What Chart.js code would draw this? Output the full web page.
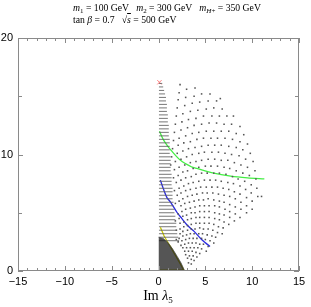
<!DOCTYPE html>
<html>
<head>
<meta charset="utf-8">
<script src="https://cdn.jsdelivr.net/npm/chart.js@4.4.0/dist/chart.umd.min.js"></script>
<style>
  html, body { margin: 0; padding: 0; background: #fff; }
  #wrap { position: relative; width: 311px; height: 307px; overflow: hidden; }
  #plot { position: absolute; left: 0; top: 0; }
  .cap { position: absolute; font-family: "Liberation Serif", "DejaVu Serif", serif; font-size: 9.7px; color: #000; white-space: pre; line-height: 10px; }
  .cap sub { font-size: 7px; vertical-align: -2px; line-height: 0; }
  .xlab { position: absolute; left: 0; width: 316px; top: 288px; text-align: center; font-family: "Liberation Serif", "DejaVu Serif", serif; font-size: 14px; color: #000; }
  .xlab sub { font-size: 9px; vertical-align: -3px; line-height: 0; }
</style>
</head>
<body>
<div id="wrap">
  <canvas id="plot" width="311" height="307"></canvas>
  <div class="cap" style="left:73px; top:3px;"><i>m</i><sub>1</sub> = 100 GeV   <i>m</i><sub>2</sub> = 300 GeV   <i>m</i><sub><i>H</i>+</sub> = 350 GeV</div>
  <div class="cap" style="left:73px; top:15px;">tan <i>β</i> = 0.7   √<span style="text-decoration:overline"><i>s</i></span> = 500 GeV</div>
  <div class="xlab">Im <i>λ</i><sub>5</sub></div>
</div>
<script>
// axis ranges and ticks
const xRange = [-15, 15];
const yRange = [0, 20];
const xMajor = [-15, -10, -5, 0, 5, 10, 15];
const yMajor = [0, 10, 20];
const yMinor = [5, 15];

// short horizontal runs of dense scan points next to Im λ5 = 0
const dashY = [2.6, 2.9, 3.2, 3.5, 3.8, 4.1, 4.4, 4.7, 5.0, 5.3, 5.6, 5.9, 6.2, 6.5, 6.8, 7.1, 7.4, 7.7, 8.0, 8.3,
  8.6, 8.9, 9.2, 9.5, 9.8, 10.1, 10.4, 10.7, 11.0, 11.3, 11.6, 11.9, 12.2, 12.5, 12.8, 13.1, 13.4, 13.7,
  14.0, 14.3, 14.6, 14.9, 15.2, 15.5, 15.8, 16.1];
const dashEnd = [2.2, 2.1, 2.0, 2.0, 1.9, 1.9, 1.8, 1.8, 1.7, 1.7, 1.6, 1.6, 1.5, 1.5, 1.5, 1.5, 1.4, 1.4, 1.4, 1.4,
  1.3, 1.3, 1.3, 1.3, 1.3, 1.2, 1.2, 1.2, 1.2, 1.2, 1.1, 1.1, 1.1, 1.1, 1.0, 1.0, 1.0, 0.9,
  0.9, 0.9, 0.8, 0.8, 0.7, 0.6, 0.5, 0.4];

// scan points away from the axis, one row per arc (top arc first)
const scanDots = [
  [2.3, 16.0], [3.9, 15.7], [5.5, 15.2], [6.6, 14.8],
  [3.0, 15.6], [4.6, 15.2], [6.2, 14.6],
  [2.2, 15.3], [3.8, 15.0], [5.3, 14.6], [6.8, 13.9], [8.0, 13.3],
  [2.9, 14.9], [4.4, 14.5], [5.9, 14.0], [7.3, 13.3], [8.7, 12.4],
  [2.1, 14.7], [3.6, 14.4], [5.1, 13.9], [6.5, 13.3], [7.8, 12.6], [9.1, 11.7],
  [2.8, 14.2], [4.2, 13.8], [5.7, 13.3], [7.0, 12.6], [8.3, 11.8], [9.5, 10.9],
  [2.0, 14.0], [3.4, 13.7], [4.8, 13.3], [6.2, 12.7], [7.5, 12.0], [8.7, 11.1], [9.8, 10.1],
  [2.6, 13.5], [4.0, 13.1], [5.4, 12.7], [6.7, 12.0], [7.9, 11.3], [9.0, 10.4], [10.1, 9.4],
  [1.9, 13.3], [3.2, 13.0], [4.6, 12.6], [5.9, 12.0], [7.1, 11.4], [8.3, 10.6], [9.3, 9.6], [10.3, 8.6],
  [2.5, 12.8], [3.8, 12.5], [5.1, 12.0], [6.3, 11.4], [7.5, 10.7], [8.6, 9.9], [9.5, 8.9], [10.4, 7.9],
  [1.8, 12.6], [3.1, 12.3], [4.3, 11.9], [5.6, 11.4], [6.7, 10.8], [7.8, 10.0], [8.8, 9.1], [9.7, 8.2], [10.5, 7.1], [11.0, 6.4],
  [2.4, 12.1], [3.6, 11.8], [4.8, 11.4], [6.0, 10.8], [7.1, 10.1], [8.1, 9.3], [9.0, 8.4], [9.9, 7.4], [10.6, 6.4],
  [1.7, 11.9], [2.9, 11.6], [4.1, 11.3], [5.3, 10.8], [6.4, 10.2], [7.4, 9.5], [8.3, 8.6], [9.2, 7.7], [9.9, 6.7],
  [2.2, 11.4], [3.4, 11.1], [4.6, 10.7], [5.7, 10.2], [6.7, 9.5], [7.6, 8.8], [8.5, 7.9], [9.3, 7.0], [10.0, 6.0],
  [1.6, 11.2], [2.7, 11.0], [3.9, 10.6], [4.9, 10.2], [6.0, 9.6], [7.0, 8.9], [7.9, 8.1], [8.7, 7.3], [9.4, 6.3], [10.0, 5.3],
  [2.1, 10.8], [3.2, 10.5], [4.3, 10.1], [5.3, 9.6], [6.3, 9.0], [7.2, 8.3], [8.0, 7.5], [8.7, 6.6], [9.4, 5.6],
  [1.5, 10.5], [2.6, 10.3], [3.6, 10.0], [4.6, 9.5], [5.6, 9.0], [6.5, 8.4], [7.4, 7.6], [8.1, 6.8], [8.8, 5.9], [9.4, 5.0],
  [2.0, 10.1], [3.0, 9.8], [4.0, 9.4], [5.0, 9.0], [5.9, 8.4], [6.7, 7.7], [7.5, 7.0], [8.2, 6.2], [8.8, 5.3],
  [1.4, 9.8], [2.4, 9.6], [3.4, 9.3], [4.3, 8.9], [5.2, 8.4], [6.1, 7.8], [6.9, 7.1], [7.6, 6.4], [8.2, 5.5], [8.7, 4.6],
  [1.8, 9.4], [2.8, 9.1], [3.7, 8.8], [4.6, 8.4], [5.5, 7.8], [6.3, 7.2], [7.0, 6.5], [7.6, 5.7], [8.2, 4.9],
  [1.3, 9.1], [2.2, 8.9], [3.1, 8.6], [4.0, 8.3], [4.9, 7.8], [5.7, 7.2], [6.4, 6.6], [7.0, 5.9], [7.6, 5.1], [8.1, 4.3],
  [1.7, 8.7], [2.6, 8.5], [3.5, 8.1], [4.3, 7.7], [5.1, 7.2], [5.8, 6.7], [6.5, 6.0], [7.1, 5.3], [7.6, 4.6],
  [2.1, 8.2], [2.9, 8.0], [3.7, 7.6], [4.5, 7.2], [5.2, 6.7], [5.9, 6.1], [6.5, 5.5], [7.0, 4.8], [7.5, 4.0],
  [1.6, 8.0], [2.4, 7.8], [3.2, 7.5], [4.0, 7.1], [4.7, 6.7], [5.3, 6.2], [6.0, 5.6], [6.5, 4.9], [7.0, 4.2],
  [1.9, 7.6], [2.7, 7.3], [3.4, 7.0], [4.1, 6.6], [4.8, 6.1], [5.4, 5.6], [6.0, 5.0], [6.5, 4.4], [6.9, 3.7],
  [2.2, 7.1], [2.9, 6.9], [3.6, 6.5], [4.3, 6.1], [4.9, 5.6], [5.4, 5.1], [6.0, 4.5], [6.4, 3.8], [6.8, 3.2],
  [1.7, 6.9], [2.4, 6.7], [3.1, 6.4], [3.8, 6.0], [4.4, 5.6], [4.9, 5.1], [5.4, 4.6], [5.9, 4.0], [6.3, 3.3],
  [2.0, 6.5], [2.6, 6.2], [3.3, 5.9], [3.9, 5.5], [4.4, 5.1], [4.9, 4.6], [5.4, 4.1], [5.8, 3.5], [6.1, 2.9],
  [2.2, 6.0], [2.8, 5.8], [3.4, 5.4], [3.9, 5.0], [4.4, 4.6], [4.9, 4.1], [5.3, 3.6], [5.7, 3.0], [5.9, 2.4],
  [1.8, 5.8], [2.4, 5.6], [2.9, 5.3], [3.5, 5.0], [4.0, 4.6], [4.4, 4.1], [4.8, 3.6], [5.2, 3.1], [5.5, 2.6],
  [2.5, 5.1], [3.0, 4.8], [3.5, 4.5], [4.0, 4.1], [4.4, 3.7], [4.7, 3.2], [5.0, 2.7], [5.3, 2.1],
  [2.1, 4.9], [2.6, 4.7], [3.1, 4.4], [3.5, 4.0], [3.9, 3.6], [4.3, 3.2], [4.6, 2.8], [4.8, 2.3], [5.1, 1.7],
  [2.2, 4.5], [2.7, 4.2], [3.1, 3.9], [3.5, 3.6], [3.8, 3.2], [4.1, 2.8], [4.4, 2.3], [4.6, 1.9],
  [1.8, 4.3], [2.3, 4.1], [2.7, 3.8], [3.1, 3.5], [3.4, 3.2], [3.7, 2.8], [4.0, 2.4], [4.2, 2.0], [4.4, 1.5],
  [2.3, 3.6], [2.6, 3.4], [3.0, 3.1], [3.3, 2.8], [3.6, 2.4], [3.8, 2.0], [4.0, 1.6], [4.1, 1.2],
  [1.9, 3.5], [2.3, 3.2], [2.6, 3.0], [2.9, 2.7], [3.2, 2.4], [3.4, 2.0], [3.6, 1.7], [3.7, 1.3], [3.8, 0.9],
  [2.2, 2.8], [2.5, 2.6], [2.8, 2.3], [3.0, 2.0], [3.2, 1.7], [3.3, 1.3], [3.5, 1.0], [3.5, 0.6],
  [1.9, 2.7], [2.1, 2.5], [2.4, 2.2], [2.6, 2.0], [2.8, 1.7], [2.9, 1.4], [3.1, 1.1], [3.2, 0.7],
];

// saturated core of the scan (upper edge, filled down to zero)
const coreX = [0.0, 0.5, 1.0, 1.5, 2.0, 2.4, 2.8];
const coreY = [2.9, 2.8, 2.45, 1.9, 1.25, 0.7, 0.0];

// contour curves
const greenX = [0.1, 0.5, 1.0, 1.3, 2.35, 3.5, 4.1, 5.9, 7.7, 9.5, 11.3];
const greenY = [12.0, 11.3, 10.7, 10.4, 9.5, 8.95, 8.8, 8.4, 8.15, 8.0, 7.9];
const blueX = [0.2, 0.5, 0.9, 1.3, 2.0, 2.5, 3.1, 3.8, 4.6, 5.5];
const blueY = [7.8, 7.1, 6.3, 5.9, 5.0, 4.5, 3.9, 3.4, 2.7, 2.1];
const yellowX = [0.2, 0.6, 1.0, 1.3, 1.8, 2.3, 2.7, 2.5, 0.05];
const yellowY = [3.75, 3.0, 2.45, 2.05, 1.35, 0.65, 0.08, 0.08, 0.08];

// reference point
const markX = [0.1];
const markY = [16.2];

const zip = (xs, ys) => xs.map((x, i) => ({ x, y: ys[i] }));

const dashPts = [];
dashY.forEach((y, i) => {
  dashPts.push({ x: 0.05, y }, { x: dashEnd[i], y }, { x: null, y: null });
});

const frameTicks = {
  id: "frameTicks",
  afterDatasetsDraw(chart) {
    const { ctx, chartArea: a, scales } = chart;
    ctx.save();
    ctx.strokeStyle = "#8a8a8a";
    ctx.lineWidth = 1;
    ctx.strokeRect(a.left + 0.5, a.top + 0.5, a.right - a.left - 1, a.bottom - a.top - 1);
    ctx.beginPath();
    for (let v = xRange[0]; v <= xRange[1]; v++) {
      const px = Math.round(scales.x.getPixelForValue(v)) + 0.5;
      const len = v % 5 === 0 ? 5 : 3;
      ctx.moveTo(px, a.bottom); ctx.lineTo(px, a.bottom - len);
      ctx.moveTo(px, a.top); ctx.lineTo(px, a.top + len);
    }
    [...yMajor, ...yMinor].forEach((v) => {
      const py = Math.round(scales.y.getPixelForValue(v)) + 0.5;
      const len = yMajor.includes(v) ? 5 : 4;
      ctx.moveTo(a.left, py); ctx.lineTo(a.left + len, py);
      ctx.moveTo(a.right, py); ctx.lineTo(a.right - len, py);
    });
    ctx.stroke();
    ctx.restore();
  },
};

new Chart(document.getElementById("plot"), {
  type: "scatter",
  data: {
    datasets: [
      { type: "line", data: zip(coreX, coreY), fill: "origin", backgroundColor: "rgba(25,25,25,0.74)", borderColor: "rgba(70,70,70,0.7)", borderWidth: 1, pointRadius: 0 },
      { type: "line", data: dashPts, spanGaps: false, fill: false, borderColor: "rgba(95,95,95,0.85)", borderWidth: 1, pointRadius: 0 },
      { data: scanDots.map(([x, y]) => ({ x, y })), pointStyle: "rect", pointRadius: 1.1, backgroundColor: "#555", borderWidth: 0 },
      { type: "line", data: zip(greenX, greenY), fill: false, borderColor: "#44ee44", borderWidth: 1.3, pointRadius: 0, tension: 0.3 },
      { type: "line", data: zip(blueX, blueY), fill: false, borderColor: "#2a2ae0", borderWidth: 1.3, pointRadius: 0, tension: 0.3 },
      { type: "line", data: zip(yellowX, yellowY), fill: false, borderColor: "#c8c800", borderWidth: 1.3, pointRadius: 0 },
      { data: zip(markX, markY), pointStyle: "crossRot", pointRadius: 3, borderColor: "#ff7a7a", borderWidth: 1 },
    ],
  },
  options: {
    responsive: false,
    animation: false,
    devicePixelRatio: 1,
    layout: { padding: { top: 38, right: 12, left: 0, bottom: 0 } },
    plugins: { legend: { display: false }, tooltip: { enabled: false } },
    scales: {
      x: {
        type: "linear", min: xRange[0], max: xRange[1],
        afterFit: (s) => { s.height = 36; },
        afterBuildTicks: (s) => { s.ticks = xMajor.map((v) => ({ value: v })); },
        grid: { display: false, drawTicks: false },
        border: { display: false },
        ticks: { padding: 4, color: "#000", font: { family: "Liberation Sans", size: 11 }, callback: (v) => String(v).replace("-", "\u2212") },
      },
      y: {
        type: "linear", min: yRange[0], max: yRange[1],
        afterFit: (s) => { s.width = 18; },
        afterBuildTicks: (s) => { s.ticks = yMajor.map((v) => ({ value: v })); },
        grid: { display: false, drawTicks: false },
        border: { display: false },
        ticks: { padding: 5, color: "#000", font: { family: "Liberation Sans", size: 11 } },
      },
    },
  },
  plugins: [frameTicks],
});
</script>
</body>
</html>
